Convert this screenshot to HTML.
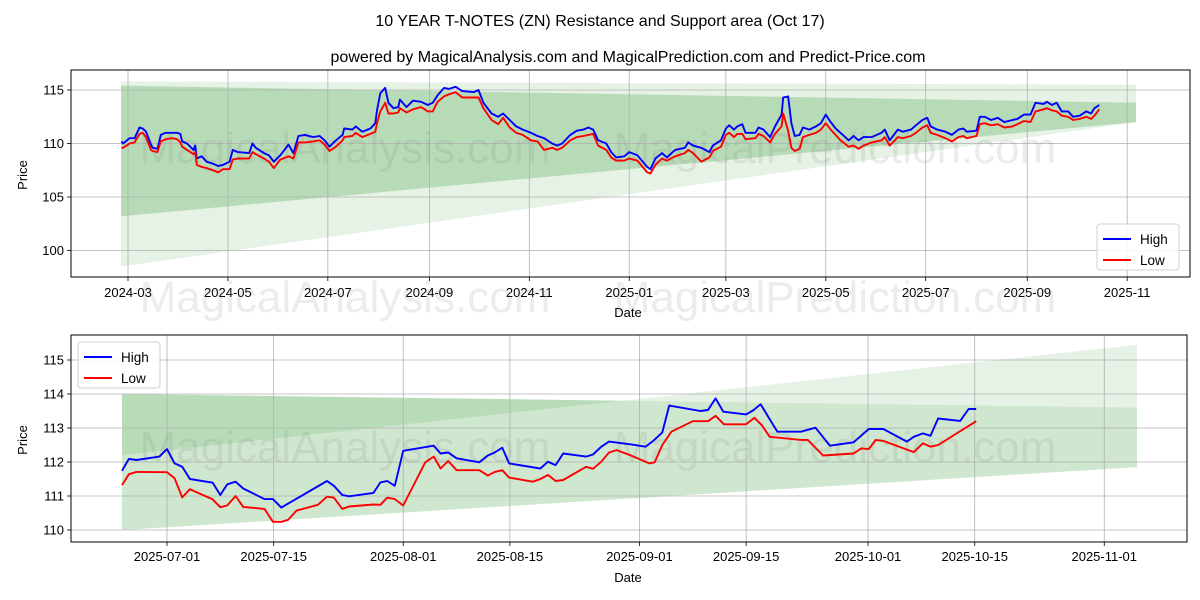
<!DOCTYPE html>
<html><head><meta charset="utf-8"><style>
html,body{margin:0;padding:0;background:#fff;}
svg{display:block;font-family:"Liberation Sans","DejaVu Sans",sans-serif;}
</style></head><body>
<svg id="c" width="1200" height="600" viewBox="0 0 1200 600" xmlns="http://www.w3.org/2000/svg">
<text x="600" y="26" text-anchor="middle" font-size="16">10 YEAR T-NOTES (ZN) Resistance and Support area (Oct 17)</text>
<text x="628" y="62" text-anchor="middle" font-size="16">powered by MagicalAnalysis.com and MagicalPrediction.com and Predict-Price.com</text>
<g id="top"></g>
<g id="bot"></g>
</svg>
<script>
// ---- top chart data (days since 2024-03-01) ----
const topDays=[-4,-3,1,4,7,9,11,14,15,18,20,23,27,30,32,33,36,40,41,42,45,48,52,55,58,62,64,67,74,76,78,83,86,89,93,98,101,104,108,113,117,120,123,127,131,132,137,139,143,148,151,152,154,157,159,162,165,166,170,174,179,183,186,189,193,196,200,204,211,214,217,222,226,229,233,237,241,246,250,254,259,262,265,270,274,278,281,284,287,292,295,298,303,306,311,317,319,322,326,329,334,340,342,345,350,355,357,362,365,367,370,372,375,377,383,385,388,392,395,399,400,403,405,407,410,412,416,420,423,426,429,432,435,440,443,446,449,454,460,462,465,470,473,478,481,485,488,490,494,499,503,507,510,512,518,520,523,527,531,535,540,543,547,551,554,559,561,564,567,570,574,577,581,585,588,590,593];
const topHigh=[110.2,110.0,110.5,110.5,111.5,111.4,111.1,109.9,109.6,109.5,110.8,111.0,111.0,111.0,110.9,110.2,110.0,109.4,109.8,108.6,108.8,108.3,108.1,107.9,108.0,108.3,109.4,109.2,109.1,110.0,109.6,109.1,108.9,108.3,108.9,109.9,109.1,110.7,110.8,110.6,110.7,110.3,109.7,110.3,110.8,111.4,111.3,111.6,111.1,111.4,111.9,113.1,114.7,115.2,113.8,113.3,113.4,114.1,113.4,114.0,113.9,113.6,113.8,114.5,115.2,115.1,115.3,114.9,114.8,115.0,113.8,112.8,112.5,112.8,112.2,111.6,111.3,111.0,110.7,110.5,110.0,109.8,110.0,110.8,111.2,111.3,111.5,111.3,110.3,110.0,109.2,108.7,108.8,109.2,108.9,107.8,107.6,108.6,109.1,108.7,109.4,109.6,110.1,109.8,109.6,109.2,109.8,110.3,111.4,111.7,111.3,111.6,111.8,111.0,111.0,111.5,111.3,110.6,111.6,112.7,114.3,114.4,111.9,110.7,110.8,111.5,111.3,111.6,111.9,112.7,112.0,111.4,111.0,110.3,110.7,110.3,110.6,110.6,111.0,111.3,110.3,111.3,111.1,111.3,111.7,112.2,112.4,111.6,111.3,111.1,110.8,111.3,111.4,111.1,111.2,112.5,112.5,112.2,112.4,112.0,112.2,112.3,112.7,112.7,113.8,113.7,113.9,113.6,113.8,113.0,113.0,112.5,112.6,113.0,112.8,113.3,113.6];
const topLow=[109.6,109.6,110.0,110.1,110.9,111.0,110.6,109.4,109.3,109.2,110.2,110.4,110.5,110.4,110.1,109.7,109.4,109.0,109.2,108.0,107.8,107.7,107.5,107.3,107.6,107.6,108.5,108.6,108.6,109.2,109.0,108.6,108.3,107.7,108.5,108.8,108.6,110.1,110.1,110.2,110.3,109.9,109.3,109.7,110.3,110.6,110.7,111.0,110.6,110.9,111.1,111.9,113.0,113.8,112.8,112.8,112.9,113.3,112.9,113.2,113.4,113.0,113.0,113.9,114.4,114.6,114.8,114.3,114.3,114.3,113.3,112.2,111.8,112.4,111.5,111.0,110.8,110.3,110.2,109.4,109.6,109.4,109.6,110.3,110.6,110.7,110.8,110.9,109.8,109.4,108.7,108.4,108.4,108.6,108.4,107.3,107.2,108.0,108.6,108.4,108.8,109.1,109.4,109.1,108.3,108.7,109.3,109.7,110.8,111.0,110.6,110.9,110.9,110.4,110.5,110.9,110.7,110.1,110.9,111.6,112.8,111.2,109.6,109.3,109.5,110.6,110.8,111.0,111.3,111.9,111.3,110.8,110.3,109.7,109.8,109.5,109.8,110.1,110.3,110.6,109.8,110.6,110.5,110.7,111.0,111.5,111.7,111.0,110.8,110.5,110.2,110.6,110.7,110.5,110.7,111.8,111.9,111.7,111.8,111.5,111.6,111.8,112.1,112.0,113.0,113.2,113.3,113.1,113.0,112.6,112.5,112.2,112.3,112.5,112.3,112.6,113.2];
const topTickDays=[0,61,122,184,245,306,365,426,487,549,610];
const topTickLabels=["2024-03","2024-05","2024-07","2024-09","2024-11","2025-01","2025-03","2025-05","2025-07","2025-09","2025-11"];
const topYTicks=[100,105,110,115];
// band edges: [start day, end day]
const topBandDays=[-4.3,615.4];
const topOuterTop=[115.8,115.5];
const topOuterBottom=[98.5,112.0];
const topInnerTop=[115.4,113.8];
const topInnerBottom=[103.2,112.0];

// ---- bottom chart data (days since 2025-07-01) ----
const botDays=[-5.9,-5,-4,-1,0,1,2,3,6,7,7.9,9,10,12.8,13.9,15,21,21.9,23,23.9,27.1,28,28.9,29.9,31,35,35.9,36.9,38,41,42.1,43,44,44.9,49,50,51,52,55,55.9,57,58,60.8,62.8,63.8,65,65.9,70,71,72,73,76,77,77.9,78.9,80.1,83.2,85.1,87,90.1,92.1,94,97.1,98,99.2,100.2,101.2,104.1,105.2,106.2];
const botHigh=[111.74,112.09,112.06,112.16,112.38,111.96,111.86,111.5,111.39,111.03,111.34,111.42,111.22,110.91,110.91,110.66,111.44,111.3,111.03,110.99,111.09,111.4,111.44,111.3,112.33,112.48,112.25,112.28,112.11,111.99,112.19,112.28,112.42,111.96,111.81,112.01,111.91,112.25,112.16,112.22,112.45,112.6,112.52,112.45,112.62,112.87,113.66,113.5,113.53,113.87,113.48,113.4,113.53,113.7,113.33,112.89,112.89,113.01,112.48,112.58,112.97,112.97,112.6,112.74,112.84,112.77,113.28,113.21,113.56,113.56];
const botLowDays=[-5.9,-5,-4,0,1,2,3,6,7,7.9,9,10,12.8,13.9,15,15.9,17,19.8,21,21.9,23,23.9,27.1,28,28.9,29.9,31,33.9,35,35.9,36.9,38,41,42.1,43,44,44.9,48,49,50,51,52,55,55.9,57,58,59,60.8,63.3,64,65,66.2,69,71,72,73.1,76,77.1,78.1,79.1,83.2,84.1,86.1,90.1,91.1,92.1,93,94,98,99.2,100.2,101.2,106.2];
const botLow=[111.32,111.64,111.71,111.70,111.52,110.96,111.2,110.9,110.67,110.72,111.0,110.68,110.62,110.24,110.24,110.3,110.57,110.74,110.98,110.95,110.62,110.69,110.75,110.74,110.95,110.91,110.72,111.99,112.16,111.81,112.03,111.76,111.76,111.6,111.71,111.76,111.54,111.42,111.5,111.62,111.44,111.47,111.86,111.8,112.01,112.28,112.35,112.2,111.96,111.99,112.5,112.89,113.2,113.2,113.36,113.11,113.11,113.3,113.07,112.74,112.65,112.65,112.19,112.25,112.4,112.38,112.65,112.62,112.29,112.55,112.45,112.5,113.2];
const botTickDays=[0,14,31,45,62,76,92,106,123];
const botTickLabels=["2025-07-01","2025-07-15","2025-08-01","2025-08-15","2025-09-01","2025-09-15","2025-10-01","2025-10-15","2025-11-01"];
const botYTicks=[110,111,112,113,114,115];
const botBandDays=[-5.9,127.3];
const botUpperTop=[114.0,113.6];
const botUpperBottom=[112.2,115.45];
const botMainBottom=[110.0,111.85];

const NS="http://www.w3.org/2000/svg";
function mk(parent,tag,attrs){const e=document.createElementNS(NS,tag);for(const k in attrs)e.setAttribute(k,attrs[k]);parent.appendChild(e);return e;}

function axesFrame(g,box,xs,ys,xTickDays,xTickLabels,yTicks,xLabelY){
  // grid
  xTickDays.forEach((d,i)=>{
    const x=xs(d);
    const gl=mk(g,'line',{x1:x,x2:x,y1:box.t,y2:box.b,stroke:'#b0b0b0','stroke-width':0.8});
    
    
    const tk=mk(g,'line',{x1:x,x2:x,y1:box.b,y2:box.b+4,stroke:'#000','stroke-width':0.8});
    
    
    const t=mk(g,'text',{x:x,y:xLabelY,'text-anchor':'middle','font-size':13});
    t.textContent=xTickLabels[i];
    
    
  });
  yTicks.forEach(v=>{
    const y=ys(v);
    const gl=mk(g,'line',{x1:box.l,x2:box.r,y1:y,y2:y,stroke:'#b0b0b0','stroke-width':0.8});
    
    
    const tk=mk(g,'line',{x1:box.l-4,x2:box.l,y1:y,y2:y,stroke:'#000','stroke-width':0.8});
    
    
    const t=mk(g,'text',{x:box.l-7,y:y+4.5,'text-anchor':'end','font-size':13});
    t.textContent=String(v);
    
    
  });
}
function poly(g,pts,fill,name){
  const p=mk(g,'polygon',{points:pts.map(p=>p[0].toFixed(1)+','+p[1].toFixed(1)).join(' '),fill:fill});
  
  
}
function line(g,xsArr,vals,xs,ys,color,name){
  const p=mk(g,'polyline',{points:xsArr.map((d,i)=>xs(d).toFixed(1)+','+ys(vals[i]).toFixed(1)).join(' '),fill:'none',stroke:color,'stroke-width':1.9,'stroke-linejoin':'round'});
  
  
}
function legend(g,x,y){
  const r=mk(g,'rect',{x:x,y:y,width:82,height:46,rx:3,fill:'#fff','fill-opacity':0.85,stroke:'#d0d0d0'});
  
  
  [['High','#0000ff',15],['Low','#ff0000',36]].forEach(([lab,c,dy])=>{
    const l=mk(g,'line',{x1:x+6,x2:x+34,y1:y+dy,y2:y+dy,stroke:c,'stroke-width':2});
    
    
    const t=mk(g,'text',{x:x+43,y:y+dy+5,'font-size':13.5});
    t.textContent=lab;
    
    
  });
}
function watermark(g,y){
  [['MagicalAnalysis.com',345],['MagicalPrediction.com',835]].forEach(([s,x])=>{
    const t=mk(g,'text',{x:x,y:y,'text-anchor':'middle','font-size':44,fill:'#808080','fill-opacity':0.15});
    t.textContent=s;
    
    
  });
}

// ---- top panel ----
(function(){
  const g=document.getElementById('top');
  const box={l:71,r:1190,t:70,b:277};
  const xs=d=>128+d*1.638, ys=v=>143.5-(v-110)*10.7;
  const b0=xs(topBandDays[0]), b1=xs(topBandDays[1]);
  poly(g,[[b0,ys(topOuterTop[0])],[b1,ys(topOuterTop[1])],[b1,ys(topOuterBottom[1])],[b0,ys(topOuterBottom[0])]],'rgba(0,128,0,0.1)','support-band-outer');
  poly(g,[[b0,ys(topInnerTop[0])],[b1,ys(topInnerTop[1])],[b1,ys(topInnerBottom[1])],[b0,ys(topInnerBottom[0])]],'rgba(0,128,0,0.2)','support-band-inner');
  axesFrame(g,box,xs,ys,topTickDays,topTickLabels,topYTicks,297);
  watermark(g,163);
  line(g,topDays,topHigh,xs,ys,'#0000ff','high-line');
  line(g,topDays,topLow,xs,ys,'#ff0000','low-line');
  const f=mk(g,'rect',{x:box.l,y:box.t,width:box.r-box.l,height:box.b-box.t,fill:'none',stroke:'#000','stroke-width':1});
  
  
  legend(g,1097,224);
  const yl=mk(g,'text',{x:0,y:0,'text-anchor':'middle','font-size':13,transform:'translate(27,175) rotate(-90)'});
  yl.textContent='Price';
  
  
  const xl=mk(g,'text',{x:628,y:317,'text-anchor':'middle','font-size':13});
  xl.textContent='Date';
  
  
})();

// ---- bottom panel ----
(function(){
  const g=document.getElementById('bot');
  const box={l:71,r:1187,t:335,b:542};
  const xs=d=>167+d*7.62, ys=v=>530-(v-110)*34;
  const b0=xs(botBandDays[0]), b1=xs(botBandDays[1]);
  // intersection of upper-top and diagonal edges
  const a0=botUpperTop[0]-botUpperBottom[0], a1=botUpperTop[1]-botUpperBottom[1];
  const t=a0/(a0-a1);
  const ix=b0+(b1-b0)*t, iv=botUpperTop[0]+(botUpperTop[1]-botUpperTop[0])*t;
  poly(g,[[b0,ys(botUpperBottom[0])],[ix,ys(iv)],[b1,ys(botUpperTop[1])],[b1,ys(botMainBottom[1])],[b0,ys(botMainBottom[0])]],'rgba(0,128,0,0.19)','support-band-main');
  poly(g,[[b0,ys(botUpperTop[0])],[ix,ys(iv)],[b0,ys(botUpperBottom[0])]],'rgba(0,128,0,0.28)','support-band-overlap');
  poly(g,[[ix,ys(iv)],[b1,ys(botUpperBottom[1])],[b1,ys(botUpperTop[1])]],'rgba(0,128,0,0.1)','resistance-band-light');
  axesFrame(g,box,xs,ys,botTickDays,botTickLabels,botYTicks,561);
  watermark(g,462);
  line(g,botDays,botHigh,xs,ys,'#0000ff','high-line');
  line(g,botLowDays,botLow,xs,ys,'#ff0000','low-line');
  const f=mk(g,'rect',{x:box.l,y:box.t,width:box.r-box.l,height:box.b-box.t,fill:'none',stroke:'#000','stroke-width':1});
  
  
  legend(g,78,342);
  const yl=mk(g,'text',{x:0,y:0,'text-anchor':'middle','font-size':13,transform:'translate(27,440) rotate(-90)'});
  yl.textContent='Price';
  
  
  const xl=mk(g,'text',{x:628,y:582,'text-anchor':'middle','font-size':13});
  xl.textContent='Date';
  
  
})();
// watermark between panels
(function(){
  const g=document.getElementById('c');
  watermark(g,312);
})();
</script>
</body></html>
